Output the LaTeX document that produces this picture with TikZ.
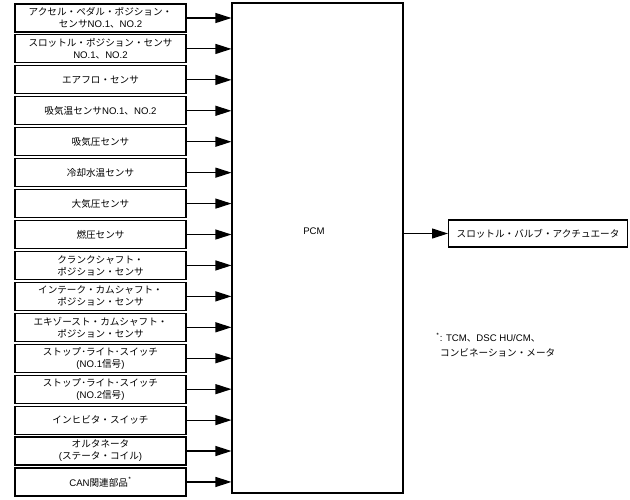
\documentclass[tikz,border=0pt]{standalone}
\usepackage{fontspec}
\setmainfont{Noto Sans CJK JP}
\newfontfamily\lat{Liberation Sans}
\usetikzlibrary{arrows.meta}
\newcommand{\fsz}{\fontsize{9.6}{12}\selectfont}
\newcommand{\la}[1]{{\lat #1}}
\begin{document}
\begin{tikzpicture}[x=1pt,y=-1pt,
  inbox/.style={draw,line width=1.1pt,minimum width=171pt,minimum height=28pt,inner sep=0pt,align=center,font=\fsz},
  arr/.style={line width=1.1pt,-{Triangle[length=16pt,width=10pt]}}]
\useasboundingbox (0,0) rectangle (630,499);
\node[inbox] (b0) at (100.5,18) {アクセル・ペダル・ポジション・\\センサ\la{NO.1}、\la{NO.2}};
\node[inbox] (b1) at (100.5,48.93) {スロットル・ポジション・センサ\\\la{NO.1}、\la{NO.2}};
\node[inbox] (b2) at (100.5,79.86) {エアフロ・センサ};
\node[inbox] (b3) at (100.5,110.79) {吸気温センサ\la{NO.1}、\la{NO.2}};
\node[inbox] (b4) at (100.5,141.72) {吸気圧センサ};
\node[inbox] (b5) at (100.5,172.65) {冷却水温センサ};
\node[inbox] (b6) at (100.5,203.58) {大気圧センサ};
\node[inbox] (b7) at (100.5,234.51) {燃圧センサ};
\node[inbox] (b8) at (100.5,265.44) {クランクシャフト・\\ポジション・センサ};
\node[inbox] (b9) at (100.5,296.37) {インテーク・カムシャフト・\\ポジション・センサ};
\node[inbox] (b10) at (100.5,327.3) {エキゾースト・カムシャフト・\\ポジション・センサ};
\node[inbox] (b11) at (100.5,358.23) {ストップ･ライト･スイッチ\\\la{(NO.1}信号\la{)}};
\node[inbox] (b12) at (100.5,389.16) {ストップ･ライト･スイッチ\\\la{(NO.2}信号\la{)}};
\node[inbox] (b13) at (100.5,420.09) {インヒビタ・スイッチ};
\node[inbox] (b14) at (100.5,451.02) {オルタネータ\\\la{(}ステータ・コイル\la{)}};
\node[inbox] (b15) at (100.5,481.95) {\la{CAN}関連部品\textsuperscript{*}};
\node[draw,line width=1.1pt,minimum width=171pt,minimum height=490pt,inner sep=0pt] (pcm) at (317.5,248) {};
\node[font=\fsz] (pcmlabel) at (314,231) {\la{PCM}};
\node[draw,line width=1.1pt,minimum width=179pt,minimum height=27pt,inner sep=0pt,anchor=west,font=\fsz] (stv) at (448,233.5) {スロットル・バルブ・アクチュエータ};
\foreach \i in {0,...,15} {
  \draw[arr] (b\i.east) -- (b\i.east -| pcm.west);
}
\draw[arr] (stv.west -| pcm.east) -- (stv.west);
\node[anchor=west,align=left,font=\fontsize{9.6}{15}\selectfont,inner sep=0pt] (note) at (436,345) {\textsuperscript{*}\la{: TCM}、\la{DSC HU/CM}、\\\hspace{4pt}コンビネーション・メータ};
\end{tikzpicture}
\end{document}
